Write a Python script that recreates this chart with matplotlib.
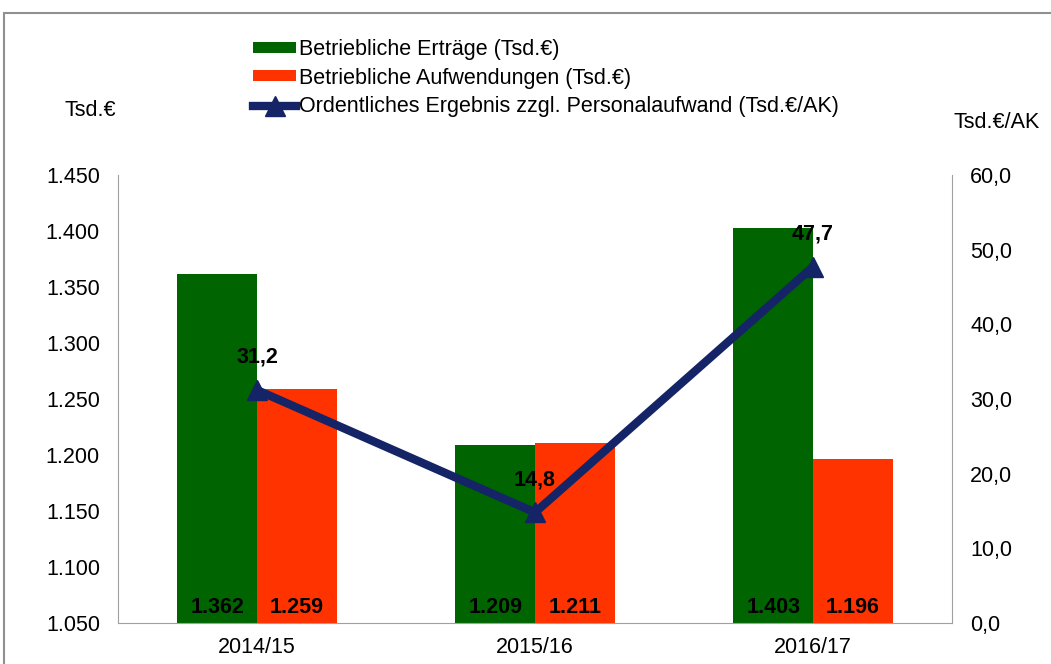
import numpy as np
import matplotlib.pyplot as plt
from matplotlib.patches import Rectangle

plt.rcParams['font.family'] = ['Liberation Sans', 'DejaVu Sans']

years = ['2014/15', '2015/16', '2016/17']
ertraege = [1362, 1209, 1403]
aufwendungen = [1259, 1211, 1196]
ergebnis = [31.2, 14.8, 47.7]

left_ticks = [1050, 1100, 1150, 1200, 1250, 1300, 1350, 1400, 1450]
right_ticks = [0, 10, 20, 30, 40, 50, 60]

green = '#006400'
orange = '#ff3300'
navy = '#142466'
grey = '#a0a0a0'
fs = 15.5


def de_thousands(v):
    return f'{v / 1000:.3f}'


def de_decimal(v):
    return f'{v:.1f}'.replace('.', ',')


fig = plt.figure(figsize=(10.51, 6.64), dpi=100)
ax = fig.add_axes([118 / 1051, 1 - 623 / 664, (952 - 118) / 1051, (623 - 175) / 664])

# outer chart frame
fig.patches.append(Rectangle((4 / 1051, -0.1), 1.2, 1 - 13 / 664 + 0.1,
                             transform=fig.transFigure, fill=False,
                             edgecolor='#909090', linewidth=1.5))

x = np.arange(len(years))
w = 0.286
ax.bar(x - w / 2, ertraege, w, color=green, label='Betriebliche Erträge (Tsd.€)')
ax.bar(x + w / 2, aufwendungen, w, color=orange, label='Betriebliche Aufwendungen (Tsd.€)')
ax.set_ylim(1050, 1450)
ax.set_xlim(-0.5, 2.5)
ax.set_yticks(left_ticks)
ax.set_yticklabels([de_thousands(v) for v in left_ticks])
ax.set_xticks(x)
ax.set_xticklabels(years)

for i in range(len(years)):
    ax.text(x[i] - w / 2, 1064, de_thousands(ertraege[i]), ha='center', va='center',
            fontsize=fs, fontweight='bold', color='black')
    ax.text(x[i] + w / 2, 1064, de_thousands(aufwendungen[i]), ha='center', va='center',
            fontsize=fs, fontweight='bold', color='black')

ax2 = ax.twinx()
ax2.plot(x, ergebnis, color=navy, linewidth=6, marker='^', markersize=15,
         label='Ordentliches Ergebnis zzgl. Personalaufwand (Tsd.€/AK)')
ax2.set_ylim(0, 60)
ax2.set_yticks(right_ticks)
ax2.set_yticklabels([de_decimal(v) for v in right_ticks])
for i in range(len(years)):
    ax2.annotate(de_decimal(ergebnis[i]), (x[i], ergebnis[i]), xytext=(0, 16),
                 textcoords='offset points', ha='center', va='bottom',
                 fontsize=fs, fontweight='bold')

for a in (ax, ax2):
    for s in a.spines.values():
        s.set_visible(False)
    a.tick_params(length=0, labelsize=fs, colors='black')
ax.tick_params(axis='y', pad=13)
ax.tick_params(axis='x', pad=10)
ax2.tick_params(axis='y', pad=13)
ax.spines['left'].set_visible(True)
ax.spines['bottom'].set_visible(True)
ax2.spines['right'].set_visible(True)
ax.spines['left'].set_color(grey)
ax.spines['bottom'].set_color(grey)
ax2.spines['right'].set_color(grey)

fig.text(90 / 1051, 1 - 110 / 664, 'Tsd.€', ha='center', va='center', fontsize=fs)
fig.text(997 / 1051, 1 - 122 / 664, 'Tsd.€/AK', ha='center', va='center', fontsize=fs)

h1, l1 = ax.get_legend_handles_labels()
h2, l2 = ax2.get_legend_handles_labels()
fig.legend(h1 + h2, l1 + l2, loc='upper left', bbox_to_anchor=(253 / 1051, 1 - 39 / 664),
           frameon=False, fontsize=fs, handlelength=2.0, handleheight=0.4,
           handletextpad=0.15, labelspacing=0.35, borderaxespad=0, borderpad=0)

fig.savefig('out.png', dpi=100)
